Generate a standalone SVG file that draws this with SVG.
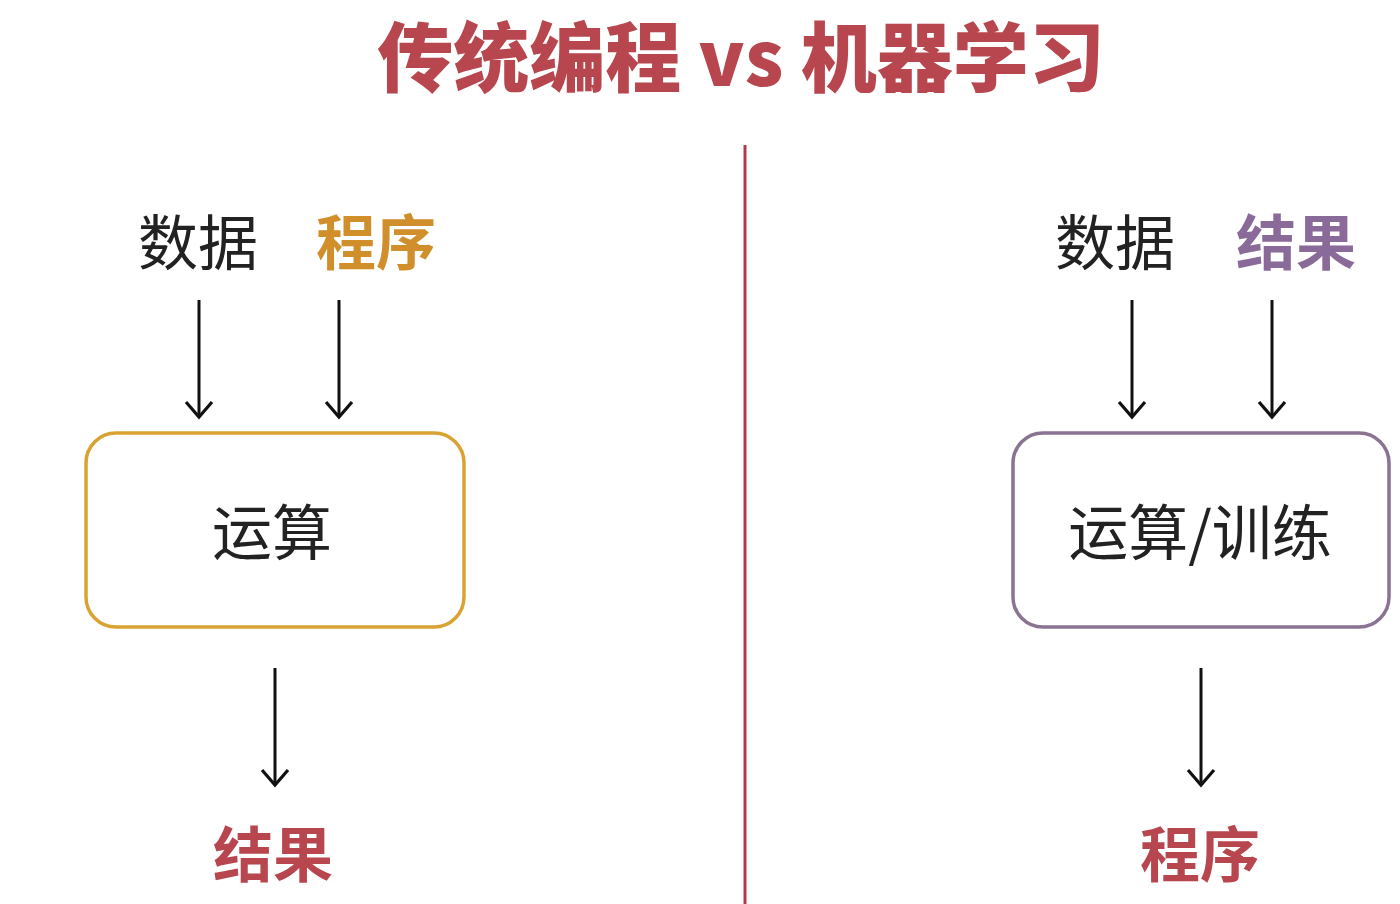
<svg xmlns="http://www.w3.org/2000/svg" width="1400" height="904" viewBox="0 0 1400 904">
<defs>
<style>
.t{font-family:"Noto Sans CJK SC","Noto Sans",sans-serif;text-anchor:middle}
.reg{font-size:60px;fill:#222;font-weight:400}
.b{font-size:60px;font-weight:700}
.conn{stroke:#111;stroke-width:3;fill:none;marker-end:url(#ah)}
.box{fill:#fff;stroke-width:3.5}
</style>
<marker id="ah" markerUnits="userSpaceOnUse" markerWidth="40" markerHeight="40" viewBox="-20 -20 40 40" refX="0" refY="0" orient="auto" overflow="visible">
<path d="M-15,-13 L0,0 L-15,13" fill="none" stroke="#111" stroke-width="3.2" stroke-linejoin="miter"/>
</marker>
</defs>
<rect width="1400" height="904" fill="#fff"/>
<g id="title"><text class="t" x="741" y="86" font-size="76" font-weight="900" fill="#b8464f">传统编程 vs 机器学习</text></g>
<g id="divider"><line x1="745" y1="145" x2="745" y2="904" stroke="#b3394a" stroke-width="3"/></g>
<g id="connectors">
<line class="conn" x1="199" y1="300" x2="199" y2="417"/>
<line class="conn" x1="339" y1="300" x2="339" y2="417"/>
<line class="conn" x1="275" y1="668" x2="275" y2="785"/>
<line class="conn" x1="1132" y1="300" x2="1132" y2="417"/>
<line class="conn" x1="1272" y1="300" x2="1272" y2="417"/>
<line class="conn" x1="1201" y1="668" x2="1201" y2="785"/>
</g>
<g id="left-data"><text class="t reg" x="198" y="265">数据</text></g>
<g id="left-program"><text class="t b" x="376" y="265" fill="#d18f2c">程序</text></g>
<g id="left-compute"><rect class="box" x="86" y="433" width="378" height="194" rx="30" stroke="#d9a233"/><text class="t reg" x="272" y="555">运算</text></g>
<g id="left-result"><text class="t b" x="273" y="877" fill="#b8464f">结果</text></g>
<g id="right-data"><text class="t reg" x="1115" y="265">数据</text></g>
<g id="right-result"><text class="t b" x="1296" y="265" fill="#8a6a98">结果</text></g>
<g id="right-train"><rect class="box" x="1013" y="433" width="376" height="194" rx="30" stroke="#8a7393"/><text class="t reg" x="1200" y="555">运算/训练</text></g>
<g id="right-program"><text class="t b" x="1200" y="877" fill="#b8464f">程序</text></g>
</svg>
